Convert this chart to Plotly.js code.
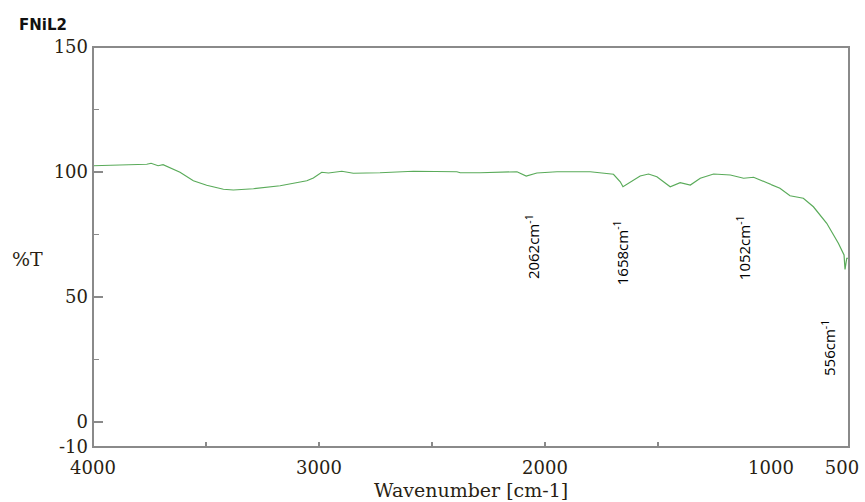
<!DOCTYPE html>
<html>
<head>
<meta charset="utf-8">
<script src="https://cdn.plot.ly/plotly-3.0.1.min.js"></script>
<style>html,body{margin:0;padding:0;background:#fff;}#chart{width:865px;height:502px;}</style>
</head>
<body>
<div id="chart"></div>
<script>
// Spectrum, 4000-1000 cm-1 part (main scale)
const wnMain = [4000, 3900, 3820, 3762, 3743, 3712, 3690, 3652, 3615, 3556, 3497, 3423, 3379, 3290, 3172, 3054, 3025, 2988, 2958, 2899, 2848, 2730, 2582, 2390, 2375, 2287, 2124, 2083, 2036, 1947, 1800, 1697, 1667, 1655, 1630, 1579, 1542, 1505, 1446, 1402, 1357, 1313, 1254, 1180, 1121, 1077, 1018, 1000];
const tMain  = [102.5, 102.7, 102.9, 103.1, 103.5, 102.5, 102.9, 101.5, 99.9, 96.5, 94.7, 93.1, 92.8, 93.3, 94.5, 96.5, 97.6, 99.9, 99.6, 100.3, 99.5, 99.7, 100.3, 100.1, 99.7, 99.7, 100.1, 98.4, 99.6, 100.1, 100.1, 99.1, 96.1, 94.1, 95.5, 98.4, 99.2, 98.1, 94.1, 95.7, 94.8, 97.5, 99.2, 98.8, 97.5, 97.9, 95.7, 95.0];
// Spectrum, 1000-450 cm-1 part (compressed scale)
const wnTail = [1000, 937, 866, 772, 701, 607, 525, 501, 485, 478, 466, 455];
const tTail  = [95.0, 93.5, 90.5, 89.5, 86.1, 79.5, 71.5, 68.8, 66.8, 61.0, 65.5, 65.5];
// Peak labels
const peakText = ['2062cm<sup>-1</sup>', '1658cm<sup>-1</sup>', '1052cm<sup>-1</sup>', '556cm<sup>-1</sup>'];
const peakX    = [2057, 1667, 1123, 598];
const peakY    = [70, 67.6, 69.6, 29.6];
const peakAxis = ['x', 'x', 'x', 'x2'];
// Ticks
const xTickVals = [4000, 3000, 2000, 1000];
const xTickText = ['4000', '3000', '2000', '1000'];
const xMinorVals = [3500, 2500, 1500];
const x2TickVals = [500];
const x2TickText = ['500'];
const yTickVals = [150, 100, 50, 0, -10];
const yTickText = ['150', '100', '50', '0', '-10'];
const yMinorVals = [125, 75, 25];

const lineColor = '#5aab5a';
const axisColor = '#8a8a8a';
const tickFont = {family: 'DejaVu Serif', size: 18, color: '#2a1f14'};
const titleFont = {family: 'DejaVu Serif', size: 19, color: '#2a1f14'};

const traces = [
  {x: wnMain, y: tMain, xaxis: 'x', yaxis: 'y', type: 'scatter', mode: 'lines',
   line: {color: lineColor, width: 1.2}, hoverinfo: 'skip'},
  {x: wnTail, y: tTail, xaxis: 'x2', yaxis: 'y', type: 'scatter', mode: 'lines',
   line: {color: lineColor, width: 1.2}, hoverinfo: 'skip'}
];

const split = 678 / 756;

const annotations = peakText.map((t, i) => ({
  text: t, x: peakX[i], y: peakY[i], xref: peakAxis[i], yref: 'y',
  showarrow: false, textangle: -90,
  font: {family: 'Open Sans', size: 15, color: '#000'}
}));
annotations.push({text: '%T', xref: 'paper', yref: 'paper', x: -0.11, y: 0.47,
  xanchor: 'left', yanchor: 'middle', showarrow: false, font: titleFont});
annotations.push({text: 'Wavenumber [cm-1]', xref: 'paper', yref: 'paper', x: 0.5, y: -0.1075,
  xanchor: 'center', yanchor: 'middle', showarrow: false, font: titleFont});
annotations.push({text: '<b>FNiL2</b>', xref: 'paper', yref: 'paper', x: -0.1, y: 1.055,
  xanchor: 'left', yanchor: 'middle', showarrow: false,
  font: {family: 'DejaVu Sans', size: 15, color: '#111'}});

const layout = {
  width: 865, height: 502,
  margin: {l: 93, r: 16, t: 47, b: 55},
  paper_bgcolor: '#fff', plot_bgcolor: '#fff',
  showlegend: false,
  xaxis: {domain: [0, split], range: [4000, 1000], tickvals: xTickVals, ticktext: xTickText,
    ticks: 'inside', ticklen: 5, tickwidth: 1.5, tickcolor: axisColor,
    minor: {tickvals: xMinorVals, ticks: 'inside', ticklen: 5, tickwidth: 1.5, tickcolor: axisColor},
    showgrid: false, zeroline: false, showline: false, tickfont: tickFont,
    ticklabelstandoff: 8, anchor: 'y'},
  xaxis2: {domain: [split, 1], range: [1000, 450], tickvals: x2TickVals, ticktext: x2TickText,
    ticks: '', showgrid: false, zeroline: false, showline: false, tickfont: tickFont,
    ticklabelstandoff: 8, anchor: 'y'},
  yaxis: {range: [-10, 150], tickvals: yTickVals, ticktext: yTickText,
    ticks: 'inside', ticklen: 10, tickwidth: 1.5, tickcolor: axisColor,
    minor: {tickvals: yMinorVals, ticks: 'inside', ticklen: 6, tickwidth: 1.5, tickcolor: axisColor},
    showgrid: false, zeroline: false, showline: false, tickfont: tickFont,
    ticklabelstandoff: 4},
  shapes: [{type: 'rect', xref: 'paper', yref: 'paper', x0: 0, x1: 1, y0: 0, y1: 1,
    line: {color: axisColor, width: 2}}],
  annotations: annotations
};

Plotly.newPlot('chart', traces, layout, {staticPlot: true, displayModeBar: false});
</script>
</body>
</html>
